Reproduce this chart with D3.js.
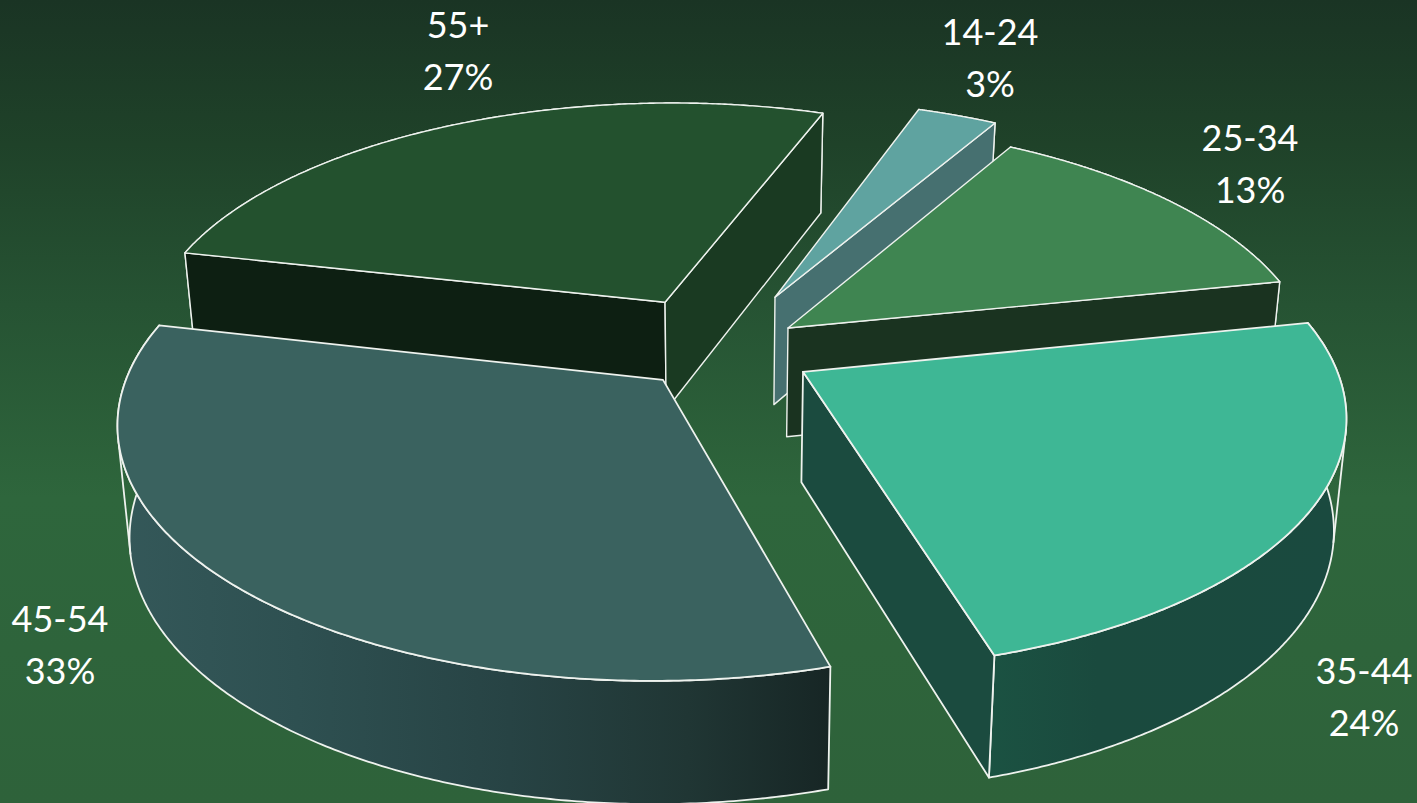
<!DOCTYPE html>
<html>
<head>
<meta charset="utf-8">
<script src="https://cdn.jsdelivr.net/npm/d3@7/dist/d3.min.js"></script>
<style>
html,body{margin:0;padding:0;background:#2e633b;overflow:hidden}
svg{display:block}
text{font-family:Lato,"Open Sans",sans-serif;font-size:36px;fill:#fff;text-anchor:middle}
</style>
</head>
<body>
<svg id="chart" width="1417" height="803"></svg>
<script>
// ---- data ----
const categories = ["14-24","25-34","35-44","45-54","55+"];
const shares = [2.9,13.4,23.7,33.1,26.9];

// ---- styles ----
const topColors   = ["#5fa3a0","#3f8551","#3eb795","#3a625f","#23512e"];
const startColors = ["#467070","#1a3320","#1a4a3f","#203638","#0d1f12"];
const endColors   = ["#467070","#1a3320","#1b4b3f","#203638","#1a3a22"];
const outerColors = ["#467070","#1a3320","url(#wall35)","url(#wall45)","#1a3a22"];

// ---- layout: ground-plane shift of each exploded slice, label anchors ----
const shiftU = [0.106,0.1289,0.1535,-0.108,-0.1095];
const shiftV = [-0.199,-0.0665,0.113,0.145,-0.1774];
const labelX = [990,1250,1364,60,458];
const labelY = [45,151,684,632,38];
const lineGap = 52;

// perspective of the ground plane
const X0=721, Y0=344, F=525, G=242, K=0.155;
const project=(u,v)=>{const w=1-K*v;return [X0+F*u/w,Y0+G*v/w];};
const drop=p=>{const h=95+0.0415*p[1];return [p[0]+(X0-p[0])*0.02,p[1]+h];};

const svg=d3.select("#chart");
const defs=svg.append("defs");
const grad=(id,attrs,stops)=>{
  const g=defs.append("linearGradient").attr("id",id).attr("gradientUnits","userSpaceOnUse");
  Object.entries(attrs).forEach(([k,v])=>g.attr(k,v));
  stops.forEach(s=>g.append("stop").attr("offset",s[0]).attr("stop-color",s[1]));
};
grad("bg",{x1:0,y1:0,x2:0,y2:803},[[0,"#1a3424"],[0.18,"#1f4229"],[0.38,"#265333"],[0.62,"#2e663c"],[1,"#2e623a"]]);
grad("wall45",{x1:120,y1:0,x2:830,y2:0},[[0,"#345859"],[0.25,"#2e5051"],[0.55,"#274344"],[0.8,"#203634"],[1,"#172625"]]);
grad("wall35",{x1:990,y1:0,x2:1345,y2:0},[[0,"#1b5242"],[0.3,"#1a4a3e"],[1,"#1a4a3f"]]);

svg.append("rect").attr("width",1417).attr("height",803).attr("fill","url(#bg)");

const deg=Math.PI/180;
const arcs=d3.pie().sort(null).value(d=>d).startAngle(19.7*deg).endAngle(379.7*deg)(shares);
const line=d3.line();

const rimPoint=(i,a)=>project(shiftU[i]+Math.sin(a),shiftV[i]-Math.cos(a));
const rim=(i,a0,a1)=>d3.range(0,241).map(t=>rimPoint(i,a0+(a1-a0)*t/240));
const wall=(ps)=>ps.concat(ps.map(drop).reverse());
const crossAt=(pts,j)=>{
  const p=pts[j],q=pts[j+1],d=drop(p);
  return (q[0]-p[0])*(d[1]-p[1])-(q[1]-p[1])*(d[0]-p[0]);
};

// painter's order: rear slices first
const order=[4,0,1,2,3];
order.forEach(i=>{
  const {startAngle:a0,endAngle:a1}=arcs[i];
  const apex=project(shiftU[i],shiftV[i]);
  const g=svg.append("g").attr("stroke","#eef2ee").attr("stroke-width",i===3||i===2?1.8:1.4).attr("stroke-linejoin","round");
  const pts=rim(i,a0,a1);
  g.append("path").attr("fill",outerColors[i]).attr("d",line(wall(pts))+"Z");
  // silhouette edges of the curved wall
  d3.range(pts.length-2).forEach(j=>{
    if(crossAt(pts,j)*crossAt(pts,j+1)<0){
      g.append("path").attr("fill","none").attr("d",line([pts[j],drop(pts[j])]));
    }
  });
  // cut faces only when they look towards the viewer
  if(Math.sin(a0)<0) g.append("path").attr("fill",startColors[i]).attr("d",line(wall([apex,pts[0]]))+"Z");
  if(Math.sin(a1)>0) g.append("path").attr("fill",endColors[i]).attr("d",line(wall([pts[pts.length-1],apex]))+"Z");
  g.append("path").attr("fill",topColors[i]).attr("d",line([apex].concat(pts))+"Z");
});

categories.forEach((c,i)=>{
  const t=svg.append("text").attr("x",labelX[i]).attr("y",labelY[i]);
  t.append("tspan").attr("x",labelX[i]).text(c);
  t.append("tspan").attr("x",labelX[i]).attr("dy",lineGap).text(d3.format(".0f")(shares[i])+"%");
});
</script>
</body>
</html>
